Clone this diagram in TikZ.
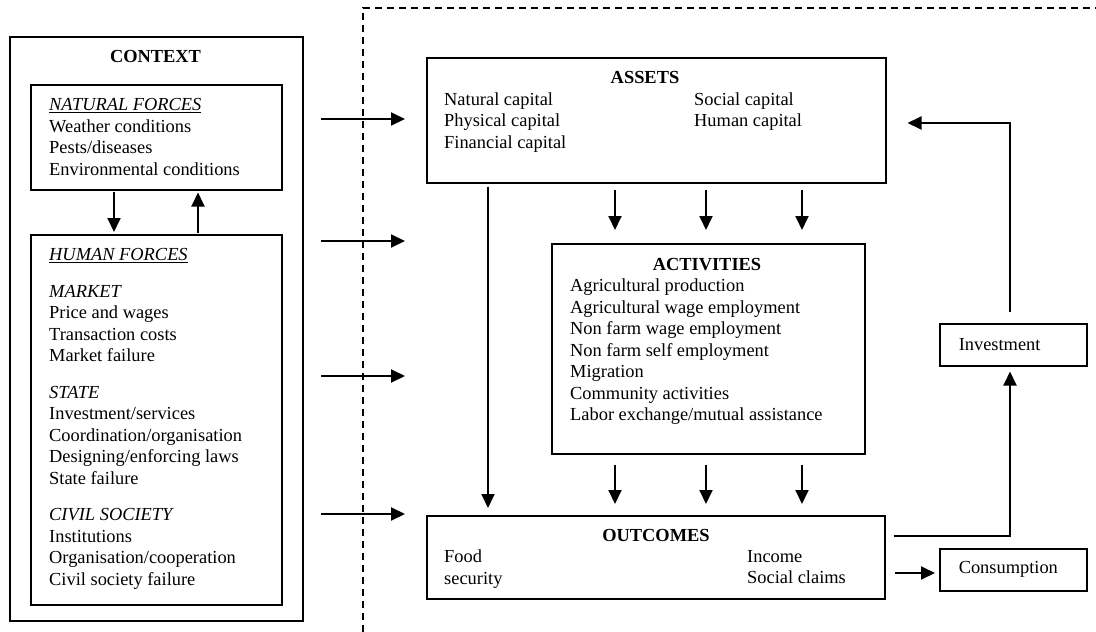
\documentclass[tikz,border=0pt]{standalone}
\usepackage{fontspec}
\setmainfont{Liberation Serif}
\usetikzlibrary{arrows.meta,positioning}

\newcommand\figfont{\fontsize{18.4}{21.5}\selectfont}

\tikzset{
  box/.style={draw, line width=1.5pt, inner sep=0pt, anchor=north west},
  txt/.style={anchor=north west, inner sep=0pt, align=left, font=\figfont, execute at begin node=\strut},
  ttl/.style={anchor=base, inner sep=0pt, font=\figfont\bfseries},
  arr/.style={line width=1.9pt, -{Triangle[length=14pt,width=13pt]}},
}

\begin{document}
\begin{tikzpicture}[x=1pt,y=-1pt]
\useasboundingbox (0,0) rectangle (1096,632);

% dashed frame
\coordinate (dbot) at (363,632);
\coordinate (dtop) at (363,8);
\coordinate (dend) at (1096,8);
\draw[dashed, line width=1.3pt, dash pattern=on 7pt off 5pt] (dbot) -- (dtop) -- (dend);

% context side
\node[box, minimum width=293, minimum height=584] (ctx) at (9,36) {};
\node[box, minimum width=251, minimum height=105] (nat) at (30,84) {};
\node[box, minimum width=251, minimum height=370] (hum) at (30,234) {};
\node[ttl] (ctxt) at (155.5,62.7) {CONTEXT};
\node[txt] (nattxt) at (49,98.5) {\underline{\textit{NATURAL FORCES}}\\Weather conditions\\Pests/diseases\\Environmental conditions};
\node[txt] (humtxt) at (49,248.5) {\underline{\textit{HUMAN FORCES}}\\[15pt]
  \textit{MARKET}\\Price and wages\\Transaction costs\\Market failure\\[15pt]
  \textit{STATE}\\Investment/services\\Coordination/organisation\\Designing/enforcing laws\\State failure\\[15pt]
  \textit{CIVIL SOCIETY}\\Institutions\\Organisation/cooperation\\Civil society failure};

% livelihood side
\node[box, minimum width=459, minimum height=125] (assets) at (426,57) {};
\node[ttl] (assetst) at (645,83.3) {ASSETS};
\node[txt] (assetsl) at (444,92.5) {Natural capital\\Physical capital\\Financial capital};
\node[txt] (assetsr) at (694,92.5) {Social capital\\Human capital};

\node[box, minimum width=313, minimum height=210] (acts) at (551,243) {};
\node[ttl] (actst) at (707,270.7) {ACTIVITIES};
\node[txt] (actstxt) at (570,279) {Agricultural production\\Agricultural wage employment\\Non farm wage employment\\Non farm self employment\\Migration\\Community activities\\Labor exchange/mutual assistance};

\node[box, minimum width=458, minimum height=83] (outc) at (426,515) {};
\node[ttl] (outct) at (656,541.7) {OUTCOMES};
\node[txt] (outcl) at (444,550) {Food\\security};
\node[txt] (outcr) at (747,550) {Income\\Social claims};

\node[box, minimum width=147, minimum height=42, text width=109, inner xsep=19pt, align=left, font=\figfont] (inv) at (939,323) {Investment};
\node[box, minimum width=147, minimum height=42, text width=109, inner xsep=19pt, align=left, font=\figfont] (cons) at (939,548) {Consumption};

% context into livelihoods
\foreach \y [count=\i] in {119,241,376,514}{
  \coordinate (ia\i) at (321,\y);
  \coordinate (ib\i) at (405,\y);
  \draw[arr] (ia\i) -- (ib\i);
}

% natural <-> human
\coordinate (xdn) at (114,0);
\coordinate (xup) at (198,0);
\draw[arr, shorten <=1pt, shorten >=2pt] (nat.south -| xdn) -- (hum.north -| xdn);
\draw[arr, shorten <=1pt, shorten >=2pt] (hum.north -| xup) -- (nat.south -| xup);

% assets -> activities -> outcomes
\foreach \x [count=\i] in {615,706,802}{
  \coordinate (col\i) at (\x,0);
  \draw[arr, shorten <=6pt, shorten >=13pt] (assets.south -| col\i) -- (acts.north -| col\i);
  \draw[arr, shorten <=10pt, shorten >=11pt] (acts.south -| col\i) -- (outc.north -| col\i);
}
\coordinate (xlong) at (488,0);
\draw[arr, shorten <=3pt, shorten >=7pt] (assets.south -| xlong) -- (outc.north -| xlong);

% outcomes -> investment / consumption, investment -> assets
\coordinate (riser) at (1010,0);
\coordinate (yinv) at (0,536);
\coordinate (ycons) at (0,573);
\coordinate (yback) at (0,123);
\draw[arr, shorten <=8pt, shorten >=5pt] (outc.east |- yinv) -| (inv.south -| riser);
\draw[arr, shorten <=9pt, shorten >=4pt] (outc.east |- ycons) -- (cons.west |- ycons);
\draw[arr, shorten <=11pt, shorten >=21pt] (inv.north -| riser) |- (assets.east |- yback);

\end{tikzpicture}
\end{document}
